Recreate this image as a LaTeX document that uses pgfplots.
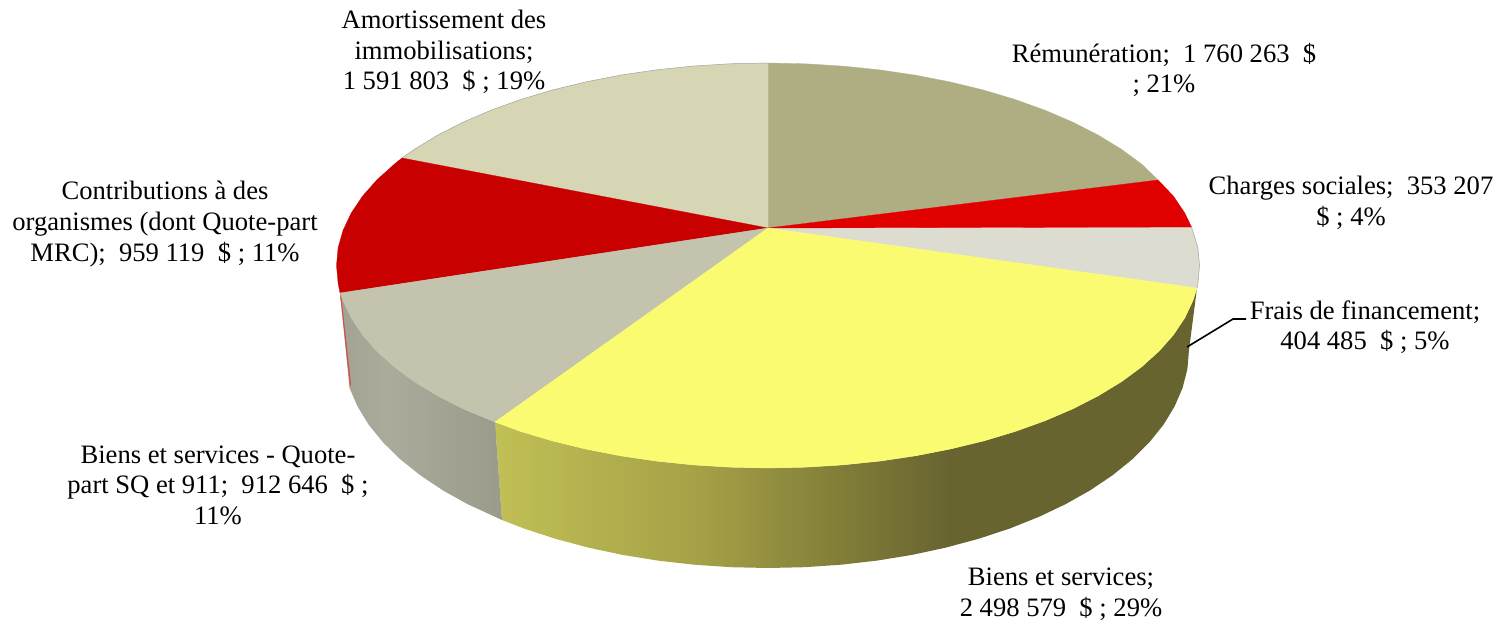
\documentclass[border=0pt]{standalone}
\usepackage{fontspec}
\setmainfont{Liberation Serif}
\usepackage{pgfplots}
\pgfplotsset{compat=1.18}
\definecolor{sa}{HTML}{AEAE82}
\definecolor{sb}{HTML}{E00000}
\definecolor{sc}{HTML}{DCDCD0}
\definecolor{sd}{HTML}{FBFB72}
\definecolor{se}{HTML}{C4C4AE}
\definecolor{sf}{HTML}{C80000}
\definecolor{sg}{HTML}{D6D6B4}
\definecolor{yA}{HTML}{C0C055}
\definecolor{yB}{HTML}{A5A147}
\definecolor{yC}{HTML}{807C38}
\definecolor{yD}{HTML}{676430}
\definecolor{gA}{HTML}{A3A393}
\definecolor{gB}{HTML}{ABAB9C}
\definecolor{gC}{HTML}{9B9B8B}
% bbox of the path sits on the 25bp..75bp part of the shading
\pgfdeclarehorizontalshading{sideyellow}{100bp}{color(0bp)=(yA); color(25bp)=(yA); color(39.5bp)=(yB); color(50bp)=(yC); color(57.4bp)=(yD); color(75bp)=(yD); color(100bp)=(yD)}
\pgfdeclarehorizontalshading{sidegrey}{100bp}{color(0bp)=(gA); color(25bp)=(gA); color(40bp)=(gB); color(75bp)=(gC); color(100bp)=(gC)}
\begin{document}
\begin{tikzpicture}
\useasboundingbox (0,0) rectangle (1510pt,621pt);
\begin{axis}[
  scale only axis, width=1510pt, height=621pt,
  xmin=0, xmax=1510, ymin=0, ymax=621, y dir=reverse,
  hide axis, clip=false,
  nodes={font=\fontsize{26.6}{30.6}\selectfont, align=center, inner sep=0pt},
]
% side of the yellow slice
\addplot[draw=none, mark=none, shading=sideyellow] coordinates {
 (495,422) (520.5,431.4) (552.3,440.9) (585.6,449) (620.4,455.8) (656.3,461.1) (693.1,464.9) (730.4,467.2)
 (768,468) (805.6,467.2) (842.9,464.9) (879.7,461.1) (915.6,455.8) (950.4,449) (983.8,440.9) (1015.5,431.4)
 (1045.4,420.6) (1073.1,408.7) (1098.5,395.7) (1121.5,381.7) (1141.7,366.8) (1159.1,351.1) (1173.5,334.8)
 (1184.8,317.9) (1192.9,300.7) (1197,288)
 (1189,350) (1187.4,369) (1182.6,387.9) (1174.6,406.4) (1163.6,424.6) (1149.6,442.1) (1132.6,459) (1112.9,475)
 (1090.5,490.1) (1065.7,504.1) (1038.6,517) (1009.5,528.6) (978.5,538.8) (945.9,547.6) (912,554.9) (877,560.6)
 (841.1,564.7) (804.7,567.2) (768,568) (730.9,567.2) (694.2,564.7) (658,560.6) (622.6,554.9) (588.4,547.6)
 (555.5,538.8) (524.2,528.6) (502,520)
} -- cycle;
% side of the grey slice
\addplot[draw=none, mark=none, shading=sidegrey] coordinates {
 (495,422) (462.9,408.7) (437.5,395.7) (414.5,381.7) (394.3,366.8) (376.9,351.1) (362.5,334.8) (351.2,317.9)
 (343.1,300.7) (340,293)
 (349.5,387.9) (357.5,406.4) (368.6,424.6) (382.8,442.1) (399.9,459) (419.9,475) (442.4,490.1) (467.5,504.1) (502,520)
} -- cycle;
% red sliver on the far left
\addplot[draw=none, fill=sf!70!white, mark=none] coordinates {(340,293) (341,293) (351,384) (350,387)} -- cycle;
% Remuneration
\addplot[fill=sa, draw=sa, line width=0.3pt, mark=none] coordinates {
 (768,228) (768,63) (805.6,63.8) (842.9,66.1) (879.7,69.9) (915.6,75.2) (950.4,82) (983.8,90.1) (1015.5,99.6)
 (1045.4,110.4) (1073.1,122.3) (1098.5,135.3) (1121.5,149.3) (1141.7,164.2) (1158,180)
} -- cycle;
% Amortissement
\addplot[fill=sg, draw=sg, line width=0.3pt, mark=none] coordinates {
 (768,228) (402,158) (414.5,149.3) (437.5,135.3) (462.9,122.3) (490.6,110.4) (520.5,99.6) (552.3,90.1) (585.6,82)
 (620.4,75.2) (656.3,69.9) (693.1,66.1) (730.4,63.8) (768,63)
} -- cycle;
% Contributions
\addplot[fill=sf, draw=sf, line width=0.3pt, mark=none] coordinates {
 (768,228) (340,293) (338.1,283.2) (336.5,265.5) (338.1,247.8) (343.1,230.3) (351.2,213.1) (362.5,196.2)
 (376.9,179.9) (394.3,164.2) (402,158)
} -- cycle;
% Biens et services - Quote-part
\addplot[fill=se, draw=se, line width=0.3pt, mark=none] coordinates {
 (768,228) (495,422) (462.9,408.7) (437.5,395.7) (414.5,381.7) (394.3,366.8) (376.9,351.1) (362.5,334.8)
 (351.2,317.9) (343.1,300.7) (340,293)
} -- cycle;
% Frais de financement
\addplot[fill=sc, draw=sc, line width=0.3pt, mark=none] coordinates {
 (768,228) (1191.5,227) (1197.9,247.8) (1199.5,265.5) (1197.9,283.2) (1197,288)
} -- cycle;
% Charges sociales
\addplot[fill=sb, draw=sb, line width=0.3pt, mark=none] coordinates {
 (768,228) (1158,180) (1173.5,196.2) (1184.8,213.1) (1191.5,227)
} -- cycle;
% Biens et services
\addplot[fill=sd, draw=sd, line width=0.3pt, mark=none] coordinates {
 (768,228) (1197,288) (1192.9,300.7) (1184.8,317.9) (1173.5,334.8) (1159.1,351.1) (1141.7,366.8) (1121.5,381.7)
 (1098.5,395.7) (1073.1,408.7) (1045.4,420.6) (1015.5,431.4) (983.8,440.9) (950.4,449) (915.6,455.8) (879.7,461.1)
 (842.9,464.9) (805.6,467.2) (768,468) (730.4,467.2) (693.1,464.9) (656.3,461.1) (620.4,455.8) (585.6,449)
 (552.3,440.9) (520.5,431.4) (495,422)
} -- cycle;
% thin grey rim, upper left and right
\addplot[black!35, line width=0.5pt, mark=none] coordinates {
 (402,158) (414.5,149.3) (437.5,135.3) (462.9,122.3) (490.6,110.4) (520.5,99.6) (552.3,90.1) (585.6,82)
 (620.4,75.2) (656.3,69.9) (693.1,66.1) (730.4,63.8) (768,63)
};
\addplot[black!35, line width=0.5pt, mark=none] coordinates {
 (1191.5,227) (1197.9,247.8) (1199.5,265.5) (1197.9,283.2) (1197,288)
};
% leader line
\addplot[black, line width=1.6pt, mark=none] coordinates {(1187,347) (1233,319) (1246,319)};
% labels
\node at (axis cs:444,52) {Amortissement des\\immobilisations;\\1~591~803~~\$ ; 19\%};
\node at (axis cs:1164,70) {Rémunération;~~1~760~263~~\$\\; 21\%};
\node at (axis cs:1351,203) {Charges sociales;~~353~207\\\$ ; 4\%};
\node at (axis cs:1365,327) {Frais de financement;\\404~485~~\$ ; 5\%};
\node at (axis cs:165,224) {Contributions à des\\organismes (dont Quote-part\\MRC);~~959~119~~\$ ; 11\%};
\node at (axis cs:218,485) {Biens et services - Quote-\\part SQ et 911;~~912~646~~\$ ;\\11\%};
\node at (axis cs:1061,594) {Biens et services;\\2~498~579~~\$ ; 29\%};
\end{axis}
\end{tikzpicture}
\end{document}
